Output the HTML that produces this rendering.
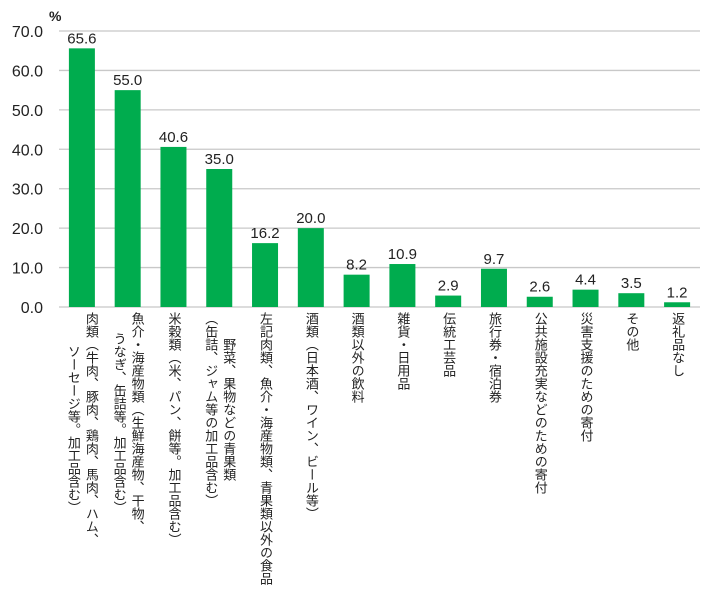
<!DOCTYPE html>
<html><head><meta charset="utf-8">
<style>
body{margin:0;background:#fff;}
#wrap{position:relative;width:710px;height:597px;overflow:hidden;font-family:"Liberation Sans","Noto Sans CJK JP",sans-serif;}
.xl{position:absolute;top:312px;writing-mode:vertical-rl;text-align:center;font-size:13px;line-height:18px;color:#222;white-space:nowrap;transform:translateX(-50%);}
</style></head>
<body>
<div id="wrap">
<svg id="svg" width="710" height="597"></svg>
</div>
<script>
const categories=["肉類（牛肉、豚肉、鶏肉、馬肉、ハム、|ソーセージ等。加工品含む）","魚介・海産物類（生鮮海産物、干物、|うなぎ、缶詰等。加工品含む）","米穀類（米、パン、餅等。加工品含む）","野菜、果物などの青果類|（缶詰、ジャム等の加工品含む）","左記肉類、魚介・海産物類、青果類以外の食品","酒類（日本酒、ワイン、ビール等）","酒類以外の飲料","雑貨・日用品","伝統工芸品","旅行券・宿泊券","公共施設充実などのための寄付","災害支援のための寄付","その他","返礼品なし"];
const values=[65.6,55.0,40.6,35.0,16.2,20.0,8.2,10.9,2.9,9.7,2.6,4.4,3.5,1.2];
const tickValues=[0,10,20,30,40,50,60,70];
const NS="http://www.w3.org/2000/svg";
const svg=document.getElementById('svg');
const wrap=document.getElementById('wrap');
const x0=59,x1=700,y0=307,y1=31,yMax=70;
const band=(x1-x0)/values.length;
function yS(v){return y0-(v/yMax)*(y0-y1);}
function xC(i){return x0+band*(i+0.5);}
function mk(t,a){const e=document.createElementNS(NS,t);for(const k in a)e.setAttribute(k,a[k]);svg.appendChild(e);return e;}
tickValues.forEach(v=>{
  const g=mk('line',{x1:x0,x2:x1,y1:yS(v),y2:yS(v),stroke:'#c8c8c8','stroke-width':1.3});
  
  
  const t=mk('text',{x:43,y:yS(v)+6,'text-anchor':'end','font-size':16,fill:'#222','font-family':'Liberation Sans, sans-serif'});
  t.textContent=v.toFixed(1);
  
  
});
const pc=mk('text',{x:49,y:21,'font-size':14,'font-weight':'bold',fill:'#222','font-family':'Liberation Sans, sans-serif'});
pc.textContent='%';


values.forEach((v,i)=>{
  const bw=26;
  const r=mk('rect',{x:xC(i)-bw/2,y:yS(v),width:bw,height:y0-yS(v),fill:'#00ac4e'});
  
  
  const t=mk('text',{x:xC(i),y:yS(v)-5,'text-anchor':'middle','font-size':15,fill:'#222','font-family':'Liberation Sans, sans-serif'});
  t.textContent=v.toFixed(1);
  
  
  const d=document.createElement('div');
  d.className='xl';
  d.style.left=xC(i)+'px';
  d.innerHTML=categories[i].split('|').join('<br>');
  
  
  wrap.appendChild(d);
});
</script>
</body></html>
